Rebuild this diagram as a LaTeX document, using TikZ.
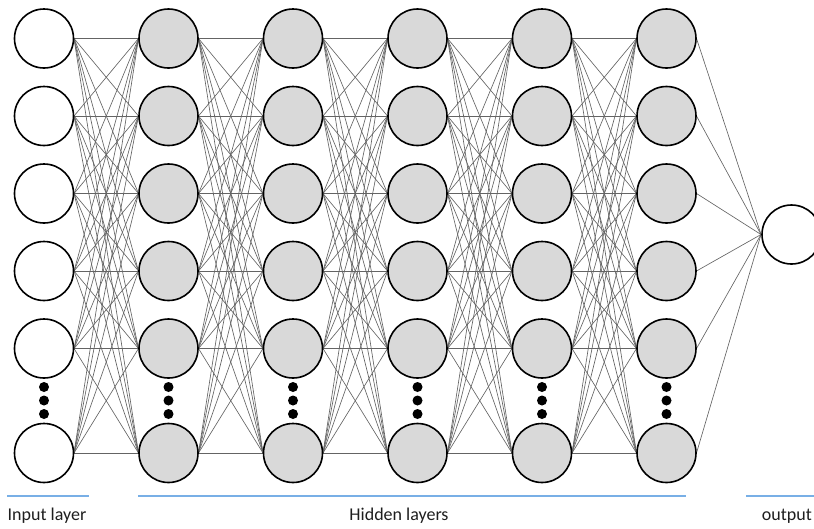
\documentclass[tikz,border=0pt]{standalone}
\usepackage{fontspec}
\setmainfont{Carlito}
\begin{document}
\begin{tikzpicture}[x=1pt,y=-1pt,
  neuron/.style={circle,draw=black,line width=1.6pt,minimum size=59pt,inner sep=0pt},
  inneuron/.style={neuron,fill=white},
  hidneuron/.style={neuron,fill={rgb,255:red,217;green,217;blue,217}},
  link/.style={draw={rgb,255:red,100;green,100;blue,100},line width=0.65pt},
  gap/.style={circle,fill=black,minimum size=10pt,inner sep=0pt},
  rule/.style={draw={rgb,255:red,120;green,175;blue,230},line width=1.1pt},
  caption/.style={font=\fontsize{18}{20}\selectfont,anchor=base,inner sep=0pt,text={rgb,255:red,30;green,30;blue,30}}]
\useasboundingbox (0,0) rectangle (814,528);
\clip (0,0) rectangle (814,528);

% row positions (rows 1-5 evenly spaced, row 6 below the ellipsis)
\def\rowys{38.5,116,193.5,271,348.5,453}

% connections between consecutive layers: east anchor to west anchor
\foreach \c [evaluate=\c as \nx using int(\c+1)] in {0,...,4} {
  \foreach \ya in \rowys {
    \foreach \yb in \rowys {
      \coordinate (s) at ({44+124.5*\c+30},\ya);
      \coordinate (t) at ({44+124.5*\nx-30},\yb);
      \draw[link] (s) -- (t);
    }
  }
}
% connections from the last hidden layer to the output
\coordinate (outw) at (761,234.5);
\foreach \ya in \rowys {
  \coordinate (s) at (696.5,\ya);
  \draw[link] (s) -- (outw);
}

% input layer
\foreach \y [count=\r] in \rowys {
  \node[inneuron] (in-\r) at (44,\y) {};
}
% hidden layers
\foreach \c in {1,...,5} {
  \foreach \y [count=\r] in \rowys {
    \node[hidneuron] (h\c-\r) at ({44+124.5*\c},\y) {};
  }
}
% output neuron
\node[inneuron] (out) at (791.5,234.5) {};

% ellipsis dots in every column
\foreach \c in {0,...,5} {
  \foreach \y [count=\k] in {387,400.5,414} {
    \node[gap] (dot\c-\k) at ({44+124.5*\c},\y) {};
  }
}

% layer rules and captions
\coordinate (r1a) at (7,496);   \coordinate (r1b) at (89,496);
\coordinate (r2a) at (138,496); \coordinate (r2b) at (686,496);
\coordinate (r3a) at (746,496); \coordinate (r3b) at (814,496);
\draw[rule] (r1a) -- (r1b);
\draw[rule] (r2a) -- (r2b);
\draw[rule] (r3a) -- (r3b);
\node[caption,anchor=base west] (cap-in) at (7.5,520) {Input layer};
\node[caption] (cap-hid) at (399,520) {Hidden layers};
\node[caption,anchor=base east] (cap-out) at (812,520) {output};
\end{tikzpicture}
\end{document}
